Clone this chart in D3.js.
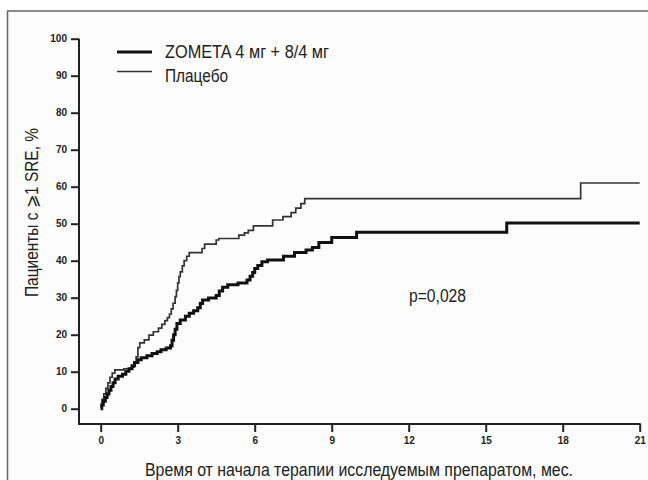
<!DOCTYPE html>
<html>
<head>
    <meta charset="utf-8">
    <title>SRE</title>
    <style>
        body { margin: 0; background: #fff; }
    </style>
</head>
<body>
    <script src="https://cdnjs.cloudflare.com/ajax/libs/d3/7.9.0/d3.min.js"></script>
    <script>

        // data (months, % of patients with >=1 SRE)
        const zometaTime = [0, 0.04, 0.1, 0.18, 0.25, 0.32, 0.4, 0.48, 0.56, 0.68, 0.85, 0.98, 1.1, 1.22, 1.32, 1.45, 1.58, 1.8, 2.0, 2.2, 2.35, 2.55, 2.72, 2.78, 2.84, 2.9, 2.97, 3.1, 3.3, 3.45, 3.62, 3.78, 3.88, 3.97, 4.2, 4.5, 4.62, 4.75, 4.95, 5.35, 5.7, 5.82, 5.92, 6.0, 6.12, 6.28, 6.5, 7.12, 7.55, 8.0, 8.25, 8.5, 9.0, 9.97, 15.82, 21];
        const zometaPct  = [0, 1, 2, 3, 4, 5, 6, 7, 8, 8.8, 9.3, 10.1, 10.8, 11.6, 12.5, 13.2, 13.8, 14.3, 14.9, 15.4, 15.9, 16.4, 17, 18.5, 20, 21.5, 23, 24, 25, 25.8, 26.5, 27.3, 28.4, 29.4, 29.9, 30.6, 31.8, 32.8, 33.5, 34, 34.8, 35.8, 36.8, 37.9, 38.7, 39.7, 40.2, 41.2, 42.2, 42.9, 43.6, 44.9, 46.3, 47.7, 50.2, 50.2];

        const placeboTime = [0, 0.05, 0.12, 0.2, 0.28, 0.36, 0.45, 0.55, 0.9, 1.2, 1.3, 1.38, 1.45, 1.52, 1.7, 1.88, 2.05, 2.25, 2.38, 2.5, 2.6, 2.68, 2.75, 2.82, 2.9, 2.95, 3.0, 3.05, 3.1, 3.18, 3.25, 3.35, 3.45, 3.95, 4.05, 4.5, 4.6, 5.38, 5.6, 5.75, 5.95, 6.7, 7.1, 7.42, 7.6, 7.8, 7.95, 18.7, 21];
        const placeboPct  = [0.8, 2.5, 4, 5.5, 7, 8.5, 9.6, 10.5, 10.8, 11.2, 12.5, 14, 16.5, 17.8, 18.6, 19.9, 20.8, 21.8, 22.8, 23.8, 24.6, 25.6, 27, 28.5, 30.3, 32, 34, 35.7, 37, 38.6, 40, 41.2, 42.2, 43.3, 44.5, 45.6, 46, 46.9, 47.5, 48.2, 49.4, 51, 51.9, 53, 54.2, 55.4, 56.8, 61, 61];

        const xTicks = [0, 3, 6, 9, 12, 15, 18, 21];
        const yTicks = [0, 10, 20, 30, 40, 50, 60, 70, 80, 90, 100];

        const seriesNames = ["ZOMETA 4 мг + 8/4 мг", "Плацебо"];
        const pLabel = "p=0,028";

        const width = 648;
        const height = 480;
        const axisLeftX = 79;     // y axis sits left of x=0
        const axisBottomY = 424;  // x axis sits below y=0
        const font = "'Liberation Sans', Arial, sans-serif";

        const svg = d3.select("body")
            .append("svg")
            .attr("width", width)
            .attr("height", height);

        // frame of the figure (open at right and bottom)
        svg.append("rect")
            .attr("x", 7.5).attr("y", 11)
            .attr("width", width).attr("height", height)
            .attr("fill", "#fcfcfc")
            .attr("stroke", "#666")
            .attr("stroke-width", 1.5);

        const x = d3.scaleLinear().domain([0, 21]).range([100.7, 639.7]);
        const y = d3.scaleLinear().domain([0, 100]).range([408.7, 38.7]);

        // y axis
        const gy = svg.append("g")
            .attr("transform", `translate(${axisLeftX},0)`)
            .call(d3.axisLeft(y).tickValues(yTicks).tickSize(8).tickPadding(4));
        gy.select(".domain").remove();
        gy.append("line")
            .attr("x1", 0).attr("x2", 0)
            .attr("y1", y(100)).attr("y2", axisBottomY + 1)
            .attr("stroke", "#222").attr("stroke-width", 2);

        // x axis
        const gx = svg.append("g")
            .attr("transform", `translate(0,${axisBottomY})`)
            .call(d3.axisBottom(x).tickValues(xTicks).tickSize(8).tickPadding(5));
        gx.select(".domain").remove();
        gx.append("line")
            .attr("x1", axisLeftX - 1).attr("x2", x(21) + 1)
            .attr("y1", 0).attr("y2", 0)
            .attr("stroke", "#222").attr("stroke-width", 2);

        svg.selectAll(".tick line").attr("stroke", "#222").attr("stroke-width", 2);
        svg.selectAll(".tick text")
            .attr("fill", "#222")
            .attr("font-family", font)
            .attr("font-weight", "bold")
            .attr("font-size", "10px");

        // curves
        const line = d3.line()
            .x(d => x(d[0]))
            .y(d => y(d[1]))
            .curve(d3.curveStepAfter);

        svg.append("path")
            .datum(d3.zip(placeboTime, placeboPct))
            .attr("d", line)
            .attr("fill", "none")
            .attr("stroke", "#333")
            .attr("stroke-width", 1.7);

        svg.append("path")
            .datum(d3.zip(zometaTime, zometaPct))
            .attr("d", line)
            .attr("fill", "none")
            .attr("stroke", "#111")
            .attr("stroke-width", 3);

        // condensed look: squeeze text to the widths seen in the picture
        function label(sel, txt, len) {
            return sel.append("text")
                .attr("font-family", font)
                .attr("font-size", "17.5px")
                .attr("fill", "#222")
                .attr("textLength", len)
                .attr("lengthAdjust", "spacingAndGlyphs")
                .text(txt);
        }

        // legend
        const legend = svg.append("g").attr("transform", "translate(117,0)");
        legend.append("line").attr("x1", 0).attr("x2", 35).attr("y1", 52).attr("y2", 52)
            .attr("stroke", "#111").attr("stroke-width", 3);
        legend.append("line").attr("x1", 0).attr("x2", 35).attr("y1", 71.5).attr("y2", 71.5)
            .attr("stroke", "#333").attr("stroke-width", 1.7);
        label(legend, seriesNames[0], 164).attr("x", 48).attr("y", 57.5);
        label(legend, seriesNames[1], 63).attr("x", 48).attr("y", 81.5);

        label(svg, pLabel, 57).attr("x", 409).attr("y", 302);

        // axis titles
        label(svg, "Пациенты с ⩾1 SRE, %", 169)
            .attr("transform", "translate(38,297) rotate(-90)");

        label(svg, "Время от начала терапии исследуемым препаратом, мес.", 428)
            .attr("x", 145).attr("y", 476);

    </script>
</body>
</html>
